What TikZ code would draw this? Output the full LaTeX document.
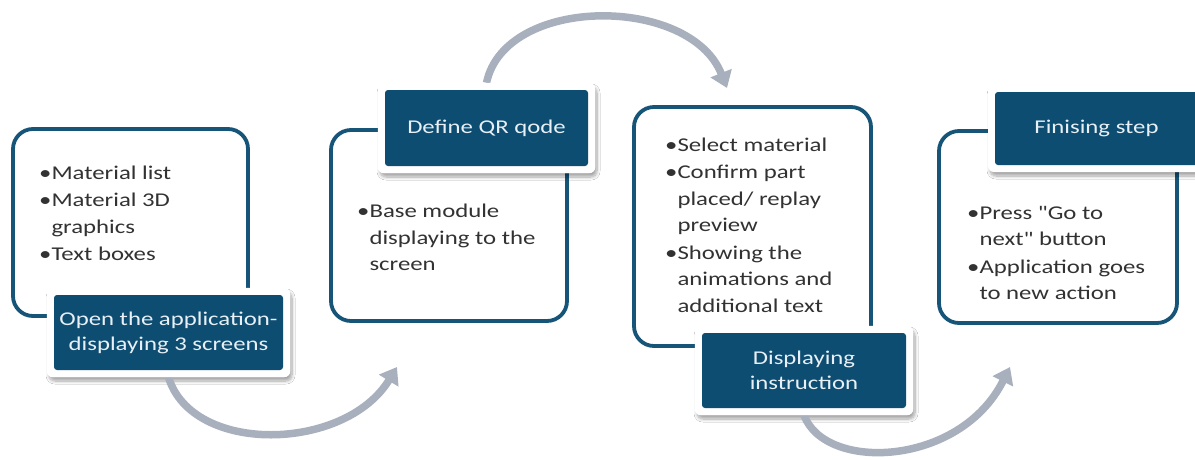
\documentclass[tikz,border=0pt]{standalone}
\usepackage{fontspec}
\setmainfont{Carlito}[FakeStretch=1.27]
\newfontfamily\plainq{Carlito}[FakeStretch=1.27]
\usetikzlibrary{arrows.meta,shadows.blur}
\definecolor{darkteal}{RGB}{14,77,114}
\definecolor{linecol}{RGB}{22,84,120}
\definecolor{arrowgray}{RGB}{168,176,190}
\definecolor{txtcol}{RGB}{50,50,50}
\definecolor{hdrtxt}{RGB}{232,240,246}
\newcommand{\dq}{{\plainq"}}
\begin{document}
\begin{tikzpicture}[x=1pt,y=-1pt,
  outline/.style={draw=linecol, line width=3.8pt, rounded corners=20pt, fill=white, inner sep=0pt},
  frame/.style={fill=white, rounded corners=6pt, inner sep=0pt,
    blur shadow={shadow xshift=2pt, shadow yshift=-4pt, shadow blur radius=3pt, shadow opacity=35, shadow blur steps=10}},
  header/.style={fill=darkteal, rounded corners=3pt, text=hdrtxt, align=center, inner sep=0pt,
    font=\fontsize{19.5}{25}\selectfont},
  body/.style={text=txtcol, align=left, inner sep=0pt, anchor=west, font=\fontsize{19.5}{26.5}\selectfont},
  flow/.style={draw=arrowgray, line width=7.5pt, -{Triangle[width=22pt,length=16pt]}}
]
\useasboundingbox (0,0) rectangle (1195,459);
\fill[white] (0,0) rectangle (1195,459);

% outline boxes
\node[outline, minimum width=235pt, minimum height=187pt] (b1) at (130.5,222.5) {};
\node[outline, minimum width=236pt, minimum height=191pt] (b2) at (449,225.5) {};
\node[outline, minimum width=237pt, minimum height=239pt] (b3) at (752.5,226.5) {};
\node[outline, minimum width=238pt, minimum height=192pt] (b4) at (1058,227) {};

% header frames (white with shadow)
\node[frame, minimum width=243pt, minimum height=89pt] (f1) at (168.5,332.5) {};
\node[frame, minimum width=217pt, minimum height=90pt] (f2) at (486.5,128) {};
\node[frame, minimum width=218pt, minimum height=89pt] (f3) at (804,370.5) {};
\node[frame, minimum width=217pt, minimum height=87pt] (f4) at (1096.5,128.5) {};

% connector end points
\coordinate (e1) at (397,367);
\coordinate (e2) at (727,88);
\coordinate (e3) at (1010,367);

% arcs
\draw[flow] (f1.south) .. controls (192,455) and (345,452) .. (e1);
\draw[flow] (f2.north) .. controls (505,-5) and (690,-5) .. (e2);
\draw[flow] (f3.south) .. controls (825,472) and (960,467) .. (e3);

% cover arc starts with frames again (no shadow)
\fill[white, rounded corners=6pt] (f1.south west) rectangle (f1.north east);
\fill[white, rounded corners=6pt] (f2.south west) rectangle (f2.north east);
\fill[white, rounded corners=6pt] (f3.south west) rectangle (f3.north east);

% headers
\node[header, minimum width=229pt, minimum height=75pt] (h1) at (f1) {Open the application-\\displaying 3 screens};
\node[header, minimum width=203pt, minimum height=76pt] (h2) at (f2) {Define QR qode};
\node[header, minimum width=204pt, minimum height=75pt] (h3) at (f3) {Displaying\\instruction};
\node[header, minimum width=203pt, minimum height=73pt] (h4) at (f4) {Finising step};

% body texts
\node[body] (t1) at (39,213.5) {\textbullet Material list\\[1pt]\textbullet Material 3D\\\phantom{\textbullet}graphics\\[1pt]\textbullet Text boxes};
\node[body] (t2) at (357,237.5) {\textbullet Base module\\\phantom{\textbullet}displaying to the\\\phantom{\textbullet}screen};
\node[body] (t3) at (665,225) {\textbullet Select material\\[1pt]\textbullet Confirm part\\\phantom{\textbullet}placed/ replay\\\phantom{\textbullet}preview\\[1pt]\textbullet Showing the\\\phantom{\textbullet}animations and\\\phantom{\textbullet}additional text};
\node[body] (t4) at (967,253) {\textbullet Press \dq Go to\\\phantom{\textbullet}next\dq{} button\\[1pt]\textbullet Application goes\\\phantom{\textbullet}to new action};
\end{tikzpicture}
\end{document}
